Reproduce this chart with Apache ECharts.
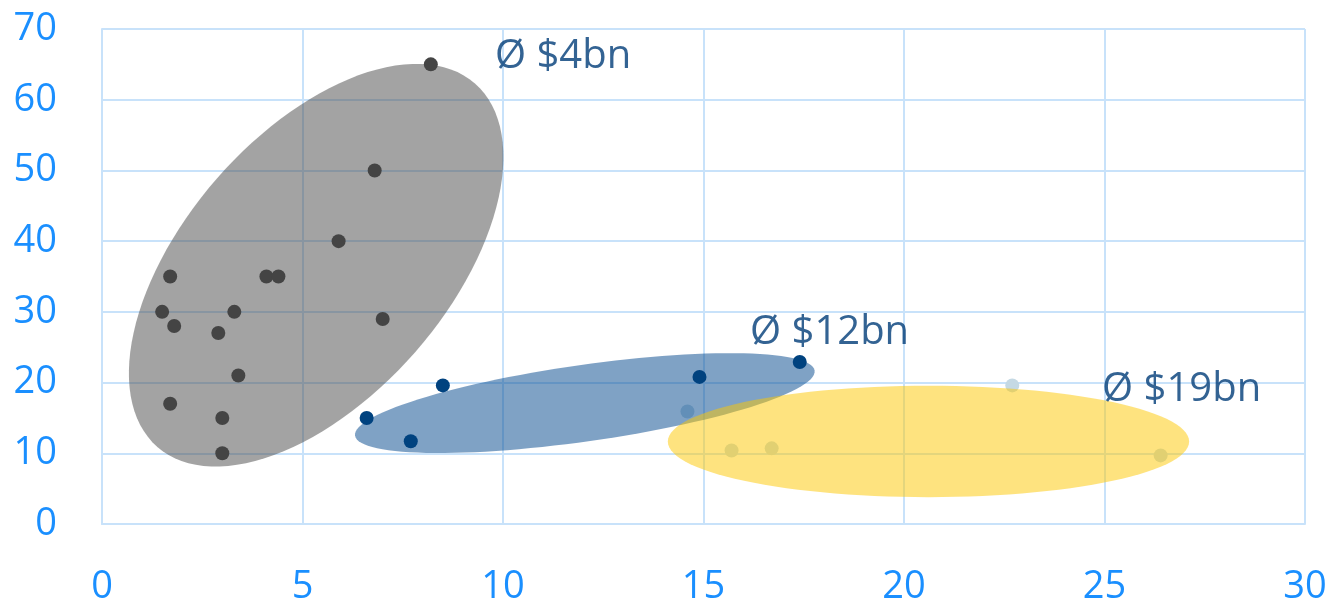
<!DOCTYPE html>
<html>
<head>
<meta charset="utf-8">
<style>
  html, body { margin: 0; padding: 0; background: #fff; }
  #main { width: 1330px; height: 604px; }
</style>
<script src="https://cdn.jsdelivr.net/npm/echarts@6/dist/echarts.min.js"></script>
</head>
<body>
<div id="main"></div>
<script>
// data
var xTicks = [0, 5, 10, 15, 20, 25, 30];
var yTicks = [0, 10, 20, 30, 40, 50, 60, 70];

var grayPts = [
  [8.2, 65], [6.8, 50], [5.9, 40], [1.7, 35], [4.1, 35], [4.4, 35],
  [1.5, 30], [3.3, 30], [1.8, 28], [2.9, 27], [7.0, 29], [3.4, 21],
  [1.7, 17], [3.0, 15], [3.0, 10]
];
var bluePts = [[6.6, 15], [7.7, 11.7], [8.5, 19.6], [14.9, 20.8], [17.4, 22.9]];
var lightPts = [[14.6, 15.9], [22.7, 19.6], [15.7, 10.4], [16.7, 10.7], [26.4, 9.7]];

// ellipses: centre, end of major half-axis, minor/major ratio
var ellCenter = [[5.34, 36.6], [12.04, 17.1], [20.61, 11.67]];
var ellMajorEnd = [[9.30, 62.3], [17.77, 21.7], [27.11, 11.67]];
var ellRatio = [0.546, 0.165, 0.2137];
var ellColor = ['rgba(72,72,72,0.5)', 'rgba(0,70,140,0.5)', 'rgba(253,200,0,0.5)'];

var labelTexts = ['Ø $4bn', 'Ø $12bn', 'Ø $19bn'];
var labelPos = [[9.8, 66.1], [16.16, 27.0], [24.94, 19.0]];

var font = '"Open Sans", "Noto Sans", sans-serif';
var tickBlue = '#1a8fff';
var gridBlue = '#c8e2fa';

var ellData = [];
for (var i = 0; i < ellCenter.length; i++) {
  ellData.push([ellCenter[i][0], ellCenter[i][1], ellMajorEnd[i][0], ellMajorEnd[i][1], ellRatio[i], i]);
}
var lblData = [];
for (var j = 0; j < labelTexts.length; j++) {
  lblData.push({ value: labelPos[j], name: labelTexts[j] });
}

function renderEllipse(params, api) {
  var c = api.coord([api.value(0), api.value(1)]);
  var e = api.coord([api.value(2), api.value(3)]);
  var dx = e[0] - c[0], dy = e[1] - c[1];
  var a = Math.sqrt(dx * dx + dy * dy);
  var b = a * api.value(4);
  var ux = dx / a, uy = dy / a;
  var vx = -uy, vy = ux;
  var pts = [];
  for (var k = 0; k < 120; k++) {
    var t = k / 120 * Math.PI * 2;
    pts.push([
      c[0] + a * Math.cos(t) * ux + b * Math.sin(t) * vx,
      c[1] + a * Math.cos(t) * uy + b * Math.sin(t) * vy
    ]);
  }
  return {
    type: 'polygon',
    shape: { points: pts },
    style: { fill: ellColor[api.value(5)] }
  };
}

var chart = echarts.init(document.getElementById('main'));
chart.setOption({
  backgroundColor: '#fff',
  animation: false,
  grid: { left: 102, right: 25, top: 29, bottom: 80, outerBoundsMode: 'none' },
  xAxis: {
    type: 'value', min: xTicks[0], max: xTicks[xTicks.length - 1], interval: 5,
    axisLine: { show: true, lineStyle: { color: gridBlue, width: 2 } },
    axisTick: { show: false },
    splitLine: { show: true, lineStyle: { color: gridBlue, width: 2 } },
    axisLabel: { color: tickBlue, fontSize: 38, fontFamily: font, margin: 44 }
  },
  yAxis: {
    type: 'value', min: yTicks[0], max: yTicks[yTicks.length - 1], interval: 10,
    axisLine: { show: true, lineStyle: { color: gridBlue, width: 2 } },
    axisTick: { show: false },
    splitLine: { show: true, lineStyle: { color: gridBlue, width: 2 } },
    axisLabel: { color: tickBlue, fontSize: 38, fontFamily: font, margin: 45 }
  },
  series: [
    {
      type: 'scatter', z: 1, symbolSize: 14, silent: true,
      itemStyle: { color: '#c5d9e4', opacity: 1 },
      data: lightPts
    },
    {
      type: 'custom', z: 2, silent: true,
      renderItem: renderEllipse,
      data: ellData
    },
    {
      type: 'scatter', z: 3, symbolSize: 14, silent: true,
      itemStyle: { color: '#444444', opacity: 1 },
      data: grayPts
    },
    {
      type: 'scatter', z: 3, symbolSize: 14, silent: true,
      itemStyle: { color: '#00427f', opacity: 1 },
      data: bluePts
    },
    {
      type: 'scatter', z: 4, symbolSize: 0, silent: true,
      label: {
        show: true, position: 'right', distance: 0,
        formatter: '{b}', color: '#003c78', fontSize: 40, fontFamily: font
      },
      data: lblData
    }
  ]
});
</script>
</body>
</html>
